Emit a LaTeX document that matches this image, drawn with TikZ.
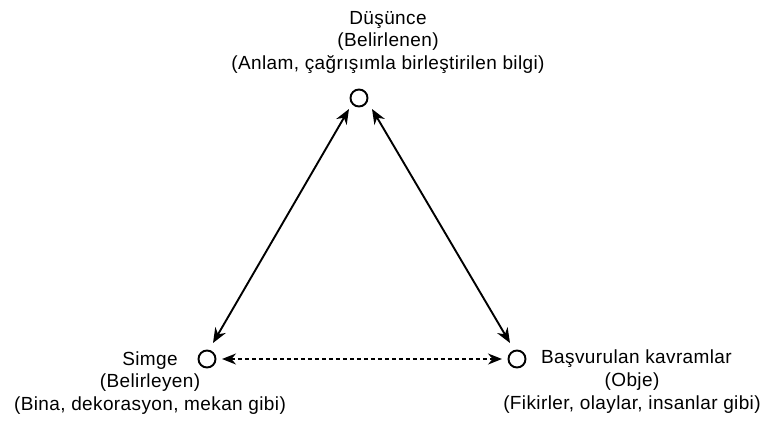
\documentclass[tikz,border=0pt]{standalone}
\usepackage{fontspec}
\setmainfont{Liberation Sans}[LetterSpace=2]
\usetikzlibrary{arrows.meta}
\begin{document}
\begin{tikzpicture}[x=1pt,y=-1pt,
  lbl/.style={font=\fontsize{19}{22.5}\selectfont, align=center, inner sep=0pt},
  pt/.style={circle, draw, line width=1.9pt, minimum size=17pt, inner sep=0pt},
  arr/.style={line width=1.9pt, {Stealth[length=15pt,width=12pt]}-{Stealth[length=15pt,width=12pt]}},
  darr/.style={line width=1.6pt, dash pattern=on 4pt off 3pt, {Stealth[length=14pt,width=11pt]}-{Stealth[length=14pt,width=11pt]}}]
\useasboundingbox (0,0) rectangle (765,423);
\node[lbl] (top) at (388,42) {Düşünce\\(Belirlenen)\\(Anlam, çağrışımla birleştirilen bilgi)};
\node[lbl] (left) at (150,383) {Simge\\(Belirleyen)\\(Bina, dekorasyon, mekan gibi)};
\node[lbl, anchor=west] (rightA) at (541,359) {Başvurulan kavramlar};
\node[lbl] (rightB) at (632,393) {(Obje)\\(Fikirler, olaylar, insanlar gibi)};
\node[pt] (T) at (359,98) {};
\node[pt] (L) at (207,359) {};
\node[pt] (R) at (517,359) {};
\coordinate (t1) at (349,109);
\coordinate (l1) at (213,343);
\coordinate (t2) at (372,109);
\coordinate (r1) at (510,343);
\coordinate (ld) at (222,359);
\coordinate (rd) at (502,359);
\draw[arr] (t1) -- (l1);
\draw[arr] (t2) -- (r1);
\draw[darr] (ld) -- (rd);
\end{tikzpicture}
\end{document}
